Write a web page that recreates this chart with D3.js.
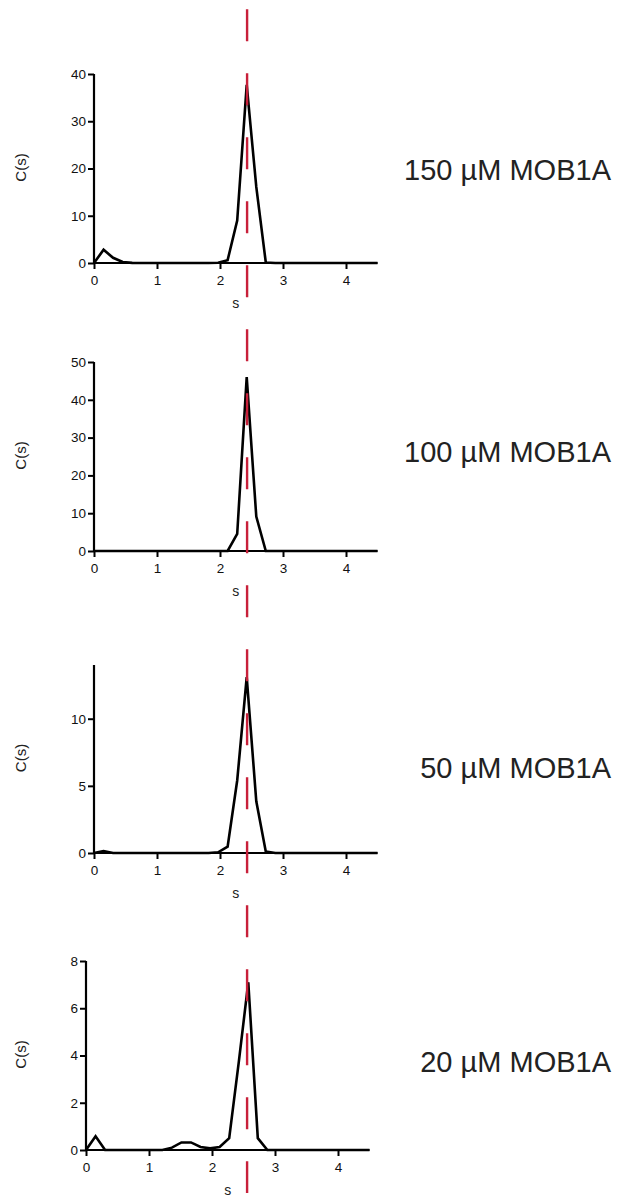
<!DOCTYPE html>
<html>
<head>
<meta charset="utf-8">
<script src="https://cdn.jsdelivr.net/npm/d3@7"></script>
<style>
  html, body { margin: 0; padding: 0; background: #fff; }
  svg { display: block; }
  text { font-family: "Liberation Sans", Arial, sans-serif; }
</style>
</head>
<body>
<div id="chart"></div>
<script>
// ---- data ----
const sValues = [0, 0.152, 0.303, 0.455, 0.606, 0.758, 0.909, 1.061, 1.212, 1.364,
  1.515, 1.667, 1.818, 1.970, 2.121, 2.273, 2.424, 2.576, 2.727, 2.879,
  3.030, 3.182, 3.333, 3.485, 3.636, 3.788, 3.939, 4.091, 4.242, 4.394, 4.5];

const c150 = [0, 2.8, 1.1, 0.2, 0.02, 0, 0, 0, 0, 0,
  0, 0, 0, 0.05, 0.6, 9.0, 37.7, 16.1, 0.1, 0,
  0, 0, 0, 0, 0, 0, 0, 0, 0, 0, 0];
const c100 = [0, 0, 0, 0, 0, 0, 0, 0, 0, 0,
  0, 0, 0, 0, 0, 4.5, 46.0, 9.1, 0, 0,
  0, 0, 0, 0, 0, 0, 0, 0, 0, 0, 0];
const c50 = [0, 0.15, 0, 0, 0, 0, 0, 0, 0, 0,
  0, 0, 0, 0.05, 0.47, 5.4, 13.1, 3.85, 0.1, 0,
  0, 0, 0, 0, 0, 0, 0, 0, 0, 0, 0];
const c20 = [0, 0.58, 0, 0, 0, 0, 0, 0, 0, 0.1,
  0.32, 0.32, 0.13, 0.07, 0.13, 0.5, 3.7, 7.1, 0.5, 0,
  0, 0, 0, 0, 0, 0, 0, 0, 0, 0, 0];

const concLabels = ["150 µM MOB1A", "100 µM MOB1A", "50 µM MOB1A", "20 µM MOB1A"];
const yMaxes = [40, 50, 14, 8];
const yTickValues = [[0, 10, 20, 30, 40], [0, 10, 20, 30, 40, 50], [0, 5, 10], [0, 2, 4, 6, 8]];
const xTickValues = [0, 1, 2, 3, 4];
const xDomain = [0, 4.5];
const referenceS = 2.43; // red dashed reference line (on top panel's scale)
const seriesList = [c150, c100, c50, c20];

// ---- layout ----
const W = 617, H = 1199;
const panels = [
  { left: 94, top: 74, bottom: 263, labelBaseline: 180 },
  { left: 94, top: 362, bottom: 551, labelBaseline: 462 },
  { left: 94, top: 665, bottom: 853, labelBaseline: 778 },
  { left: 86, top: 961, bottom: 1150, labelBaseline: 1072 }
];
const plotW = 283.5;

const svg = d3.select("#chart").append("svg")
  .attr("width", W).attr("height", H);

const scales = [];

panels.forEach((p, i) => {
  const x = d3.scaleLinear().domain(xDomain).range([p.left, p.left + plotW]);
  const y = d3.scaleLinear().domain([0, yMaxes[i]]).range([p.bottom, p.top]);
  scales.push(x);
  const g = svg.append("g");

  // data line
  const line = d3.line().x((d, k) => x(sValues[k])).y(d => y(d));
  g.append("path")
    .datum(seriesList[i])
    .attr("d", line)
    .attr("fill", "none")
    .attr("stroke", "#000")
    .attr("stroke-width", 2.6)
    .attr("stroke-linejoin", "miter");

  // y axis
  const yAxis = g.append("g")
    .attr("transform", `translate(${p.left},0)`)
    .call(d3.axisLeft(y).tickValues(yTickValues[i]).tickSize(6).tickPadding(2).tickFormat(d3.format("d")));
  yAxis.select(".domain").attr("d", `M0,${p.bottom}V${p.top}`).attr("stroke-width", 2.2).attr("stroke", "#000");
  yAxis.selectAll(".tick line").attr("stroke-width", 2).attr("stroke", "#000");
  yAxis.selectAll(".tick text").attr("font-size", 13.5).attr("fill", "#111")
    .attr("font-family", "'Liberation Sans', Arial, sans-serif");

  // x axis
  const xAxis = g.append("g")
    .attr("transform", `translate(0,${p.bottom})`)
    .call(d3.axisBottom(x).tickValues(xTickValues).tickSize(6).tickPadding(6).tickFormat(d3.format("d")));
  xAxis.select(".domain").attr("d", `M${p.left},0H${p.left + plotW}`).attr("stroke-width", 2.2).attr("stroke", "#000");
  xAxis.selectAll(".tick line").attr("stroke-width", 2).attr("stroke", "#000");
  xAxis.selectAll(".tick text").attr("font-size", 13.5).attr("fill", "#111")
    .attr("font-family", "'Liberation Sans', Arial, sans-serif");

  // axis titles
  g.append("text")
    .attr("x", (p.left + p.left + plotW) / 2)
    .attr("y", p.bottom + 44.5)
    .attr("text-anchor", "middle")
    .attr("font-size", 14)
    .attr("fill", "#222")
    .text("s");

  g.append("text")
    .attr("transform", `translate(26,${(p.top + p.bottom) / 2 - 1}) rotate(-90)`)
    .attr("text-anchor", "middle")
    .attr("font-size", 15)
    .attr("fill", "#222")
    .text("C(s)");

  // concentration label
  g.append("text")
    .attr("x", 611)
    .attr("y", p.labelBaseline)
    .attr("text-anchor", "end")
    .attr("font-size", 29)
    .attr("fill", "#222")
    .text(concLabels[i]);
});

// red dashed reference line spanning the figure
const refX = scales[0](referenceS);
svg.append("line")
  .attr("x1", refX).attr("x2", refX)
  .attr("y1", 9.3).attr("y2", 1193)
  .attr("stroke", "#c8203a")
  .attr("stroke-width", 2.4)
  .attr("stroke-dasharray", "32,32");
</script>
</body>
</html>
